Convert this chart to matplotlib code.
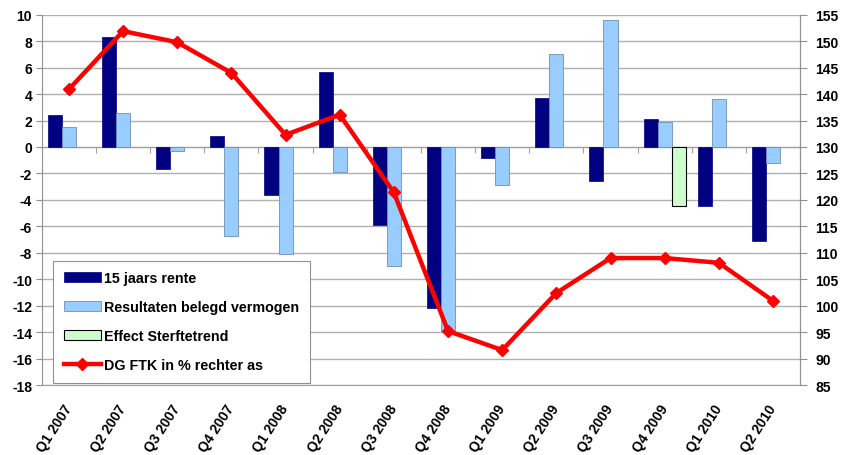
import numpy as np
import matplotlib.pyplot as plt

plt.rcParams['font.family'] = ['Liberation Sans', 'DejaVu Sans']
plt.rcParams['font.weight'] = 'bold'
plt.rcParams['axes.unicode_minus'] = False

# data
quarters = ['Q1 2007', 'Q2 2007', 'Q3 2007', 'Q4 2007', 'Q1 2008', 'Q2 2008', 'Q3 2008',
            'Q4 2008', 'Q1 2009', 'Q2 2009', 'Q3 2009', 'Q4 2009', 'Q1 2010', 'Q2 2010']
rente = [2.4, 8.3, -1.7, 0.8, -3.6, 5.7, -5.9, -12.2, -0.85, 3.7, -2.6, 2.1, -4.5, -7.1]
belegd = [1.5, 2.6, -0.3, -6.7, -8.1, -1.9, -9.0, -13.9, -2.9, 7.0, 9.6, 1.9, 3.6, -1.2]
sterfte = [0, 0, 0, 0, 0, 0, 0, 0, 0, 0, 0, -4.5, 0, 0]
dg_ftk = [140.9, 151.9, 149.8, 144.0, 132.3, 136.1, 121.4, 95.2, 91.6, 102.4, 109.0, 109.0, 108.1, 100.9]

x = np.arange(len(quarters))
w = 0.26

fig = plt.figure(figsize=(8.53, 4.56), dpi=100)
ax = fig.add_axes([0.049, 0.1535, 0.889, 0.812])

ax.bar(x - w, rente, w, color='#000080', edgecolor='#000080', linewidth=0.5, label='15 jaars rente', zorder=3)
ax.bar(x, belegd, w, color='#99CCFF', edgecolor='#6f8fb0', linewidth=0.6, label='Resultaten belegd vermogen', zorder=3)
sterfte_h = [v if v != 0 else np.nan for v in sterfte]
ax.bar(x + w, sterfte_h, w, color='#CCFFCC', edgecolor='black', linewidth=0.8, label='Effect Sterftetrend', zorder=3)

ax.set_xlim(-0.5, len(quarters) - 0.5)
ax.set_ylim(-18, 10)
ax.set_yticks(np.arange(-18, 11, 2))
ax.yaxis.grid(True, color='#b0b0b0', linewidth=1)
ax.set_axisbelow(True)

# category axis crossing at zero
ax.spines['bottom'].set_position(('data', 0))
ax.spines['bottom'].set_color('#a0a0a0')
ax.spines['bottom'].set_zorder(2)
ax.set_xticks(np.arange(len(quarters) + 1) - 0.5)
ax.tick_params(axis='x', length=4, color='#a0a0a0', labelbottom=False)
ax.spines['top'].set_visible(False)
ax.spines['left'].set_color('#909090')
ax.spines['right'].set_color('#909090')
ax.tick_params(axis='y', labelsize=10, length=4, color='#909090', pad=3)

sec = ax.secondary_xaxis('bottom')
sec.set_xticks(x, labels=quarters, rotation=57, ha='right', va='center', rotation_mode='anchor',
               fontsize=10)
sec.tick_params(length=0, pad=15)
sec.spines['bottom'].set_color('#a0a0a0')

ax2 = ax.twinx()
ax2.plot(x, dg_ftk, color='#FF0000', linewidth=3.2, marker='D', markersize=6,
         label='DG FTK in % rechter as', zorder=5)
ax2.set_ylim(85, 155)
ax2.set_yticks(np.arange(85, 156, 5))
ax2.tick_params(axis='y', labelsize=10, length=5, color='#909090', pad=6)
for s in ['top', 'bottom', 'left']:
    ax2.spines[s].set_visible(False)
ax2.spines['right'].set_color('#909090')

h1, l1 = ax.get_legend_handles_labels()
h2, l2 = ax2.get_legend_handles_labels()
leg = ax2.legend(h1 + h2, l1 + l2, loc='lower left', bbox_to_anchor=(0.0145, 0.005),
                 borderaxespad=0, fontsize=10.3, frameon=True, fancybox=False,
                 edgecolor='#909090', framealpha=1, handlelength=2.6, handleheight=0.7,
                 labelspacing=1.05, borderpad=0.75, handletextpad=0.25)
leg.get_frame().set_linewidth(0.8)
leg.set_zorder(10)

plt.savefig('out.png', dpi=100)
